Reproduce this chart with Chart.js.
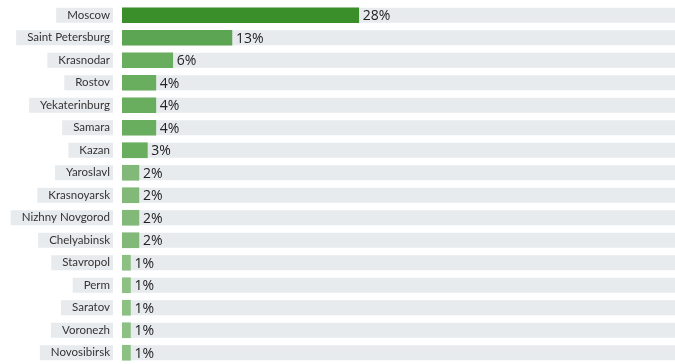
<!DOCTYPE html>
<html>
<head>
<meta charset="utf-8">
<script src="https://cdn.jsdelivr.net/npm/chart.js@4"></script>
<style>
  html, body { margin: 0; padding: 0; background: #fff; }
  #wrap { width: 675px; height: 364px; }
</style>
</head>
<body>
<div id="wrap"><canvas id="myChart" width="675" height="364"></canvas></div>
<script>
let cities = [
    "Moscow", "Saint Petersburg", "Krasnodar", "Rostov", "Yekaterinburg", "Samara",
    "Kazan", "Yaroslavl", "Krasnoyarsk", "Nizhny Novgorod", "Chelyabinsk",
    "Stavropol", "Perm", "Saratov", "Voronezh", "Novosibirsk"
];
let shares = [28, 13, 6, 4, 4, 4, 3, 2, 2, 2, 2, 1, 1, 1, 1, 1];
let xMax = 65.4;

function barColor(v) {
    if (v >= 20) return "#3a8f2b";
    if (v >= 10) return "#5ca552";
    if (v >= 3) return "#69ad5f";
    if (v >= 2) return "#82b978";
    return "#8dc184";
}

let labelFont = "11.5px Lato";
let valueFont = "14px 'Open Sans'";

// grey bands behind each row (label part + bar part), then value labels
let bandsPlugin = {
    id: 'bands',
    beforeDraw(chart) {
        let ctx = chart.ctx;
        let y = chart.scales.y;
        let area = chart.chartArea;
        ctx.save();
        ctx.font = labelFont;
        ctx.fillStyle = "#e8ebee";
        cities.forEach((c, i) => {
            let cy = y.getPixelForValue(i);
            let w = ctx.measureText(c).width;
            ctx.fillRect(area.left - 12 - w - 11, cy - 7.5, w + 11 + 3, 15);
            ctx.fillRect(area.left, cy - 7.5, area.right - area.left, 15);
        });
        ctx.restore();
    },
    afterDatasetsDraw(chart) {
        let ctx = chart.ctx;
        let meta = chart.getDatasetMeta(0);
        ctx.save();
        ctx.font = valueFont;
        ctx.fillStyle = "#222";
        ctx.textBaseline = "middle";
        meta.data.forEach((bar, i) => {
            ctx.fillText(shares[i] + "%", bar.x + 4, bar.y + 1);
        });
        ctx.restore();
    }
};

new Chart(document.getElementById('myChart').getContext('2d'), {
    type: 'bar',
    data: {
        labels: cities,
        datasets: [{
            data: shares,
            backgroundColor: shares.map(barColor),
            barThickness: 15,
            borderWidth: 0
        }]
    },
    options: {
        indexAxis: 'y',
        responsive: false,
        animation: false,
        devicePixelRatio: 1,
        layout: { padding: { top: 4, bottom: 0, left: 0, right: 0 } },
        plugins: {
            legend: { display: false },
            tooltip: { enabled: false }
        },
        scales: {
            x: {
                min: 0,
                max: xMax,
                display: false
            },
            y: {
                grid: { display: false },
                border: { display: false },
                ticks: {
                    padding: 4,
                    color: "#333",
                    font: { family: "Lato", size: 11.5 }
                },
                afterFit(scale) {
                    scale.width = 122;
                    scale.paddingTop = 0;
                    scale.paddingBottom = 0;
                }
            }
        }
    },
    plugins: [bandsPlugin]
});
</script>
</body>
</html>
